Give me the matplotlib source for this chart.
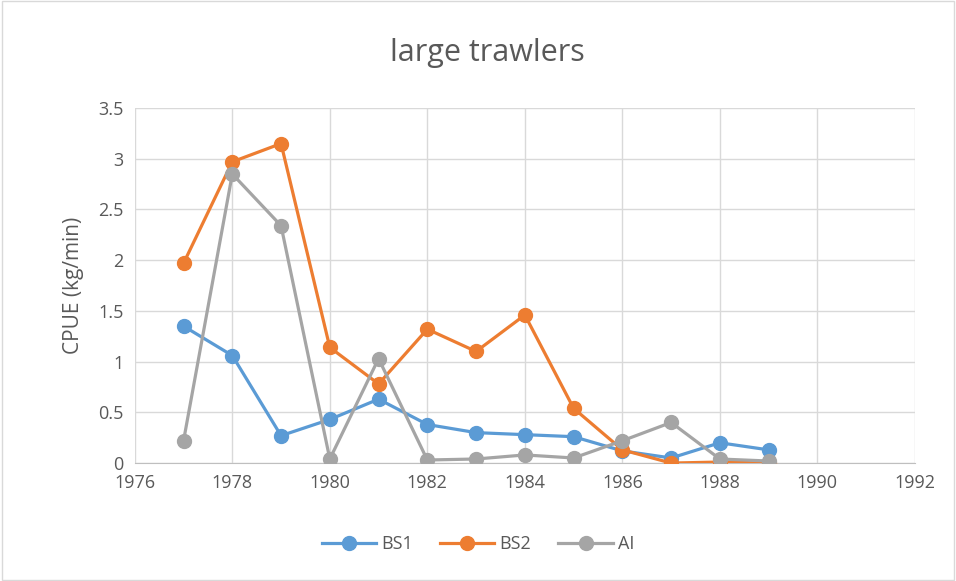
import matplotlib.pyplot as plt

years = [1977, 1978, 1979, 1980, 1981, 1982, 1983, 1984, 1985, 1986, 1987, 1988, 1989]
bs1 = [1.35, 1.06, 0.27, 0.43, 0.63, 0.38, 0.30, 0.28, 0.26, 0.12, 0.05, 0.20, 0.13]
bs2 = [1.97, 2.97, 3.15, 1.14, 0.78, 1.32, 1.10, 1.46, 0.54, 0.13, 0.00, 0.01, 0.00]
ai = [0.22, 2.85, 2.34, 0.04, 1.03, 0.03, 0.04, 0.08, 0.05, 0.22, 0.40, 0.04, 0.02]

xticks = list(range(1976, 1993, 2))
yticks = [0, 0.5, 1, 1.5, 2, 2.5, 3, 3.5]
ytick_labels = ["0", "0.5", "1", "1.5", "2", "2.5", "3", "3.5"]

plt.rcParams['font.family'] = ['Open Sans', 'DejaVu Sans']
txt = '#595959'

fig = plt.figure(figsize=(9.56, 5.81), dpi=100)
ax = fig.add_axes([0.141, 0.203, 0.816, 0.611])

ax.plot(years, bs1, '-o', color='#5B9BD5', lw=2.3, ms=10, label='BS1', zorder=3)
ax.plot(years, bs2, '-o', color='#ED7D31', lw=2.3, ms=10, label='BS2', zorder=3)
ax.plot(years, ai, '-o', color='#A5A5A5', lw=2.3, ms=10, label='AI', zorder=3)

ax.set_xlim(1976, 1992)
ax.set_ylim(0, 3.5)
ax.set_xticks(xticks)
ax.set_yticks(yticks)
ax.set_yticklabels(ytick_labels)
ax.tick_params(colors=txt, labelsize=13, length=0, pad=8)
ax.grid(True, color='#D9D9D9', lw=1)
ax.set_axisbelow(True)
for s in ['top', 'right', 'left']:
    ax.spines[s].set_visible(False)
ax.spines['bottom'].set_color('#BFBFBF')

ax.set_ylabel('CPUE (kg/min)', color=txt, fontsize=15, labelpad=10)
fig.suptitle('large trawlers', x=0.51, y=0.935, fontsize=22, color=txt)

fig.legend(loc='lower center', bbox_to_anchor=(0.5, 0.02), ncol=3, frameon=False,
           fontsize=13, labelcolor=txt, handlelength=3, columnspacing=1.5, handletextpad=0.3)

fig.patches.append(plt.Rectangle((0.002, 0.002), 0.996, 0.996, transform=fig.transFigure,
                                 fill=False, edgecolor='#D9D9D9', lw=1))

fig.savefig('out.png', dpi=100)
